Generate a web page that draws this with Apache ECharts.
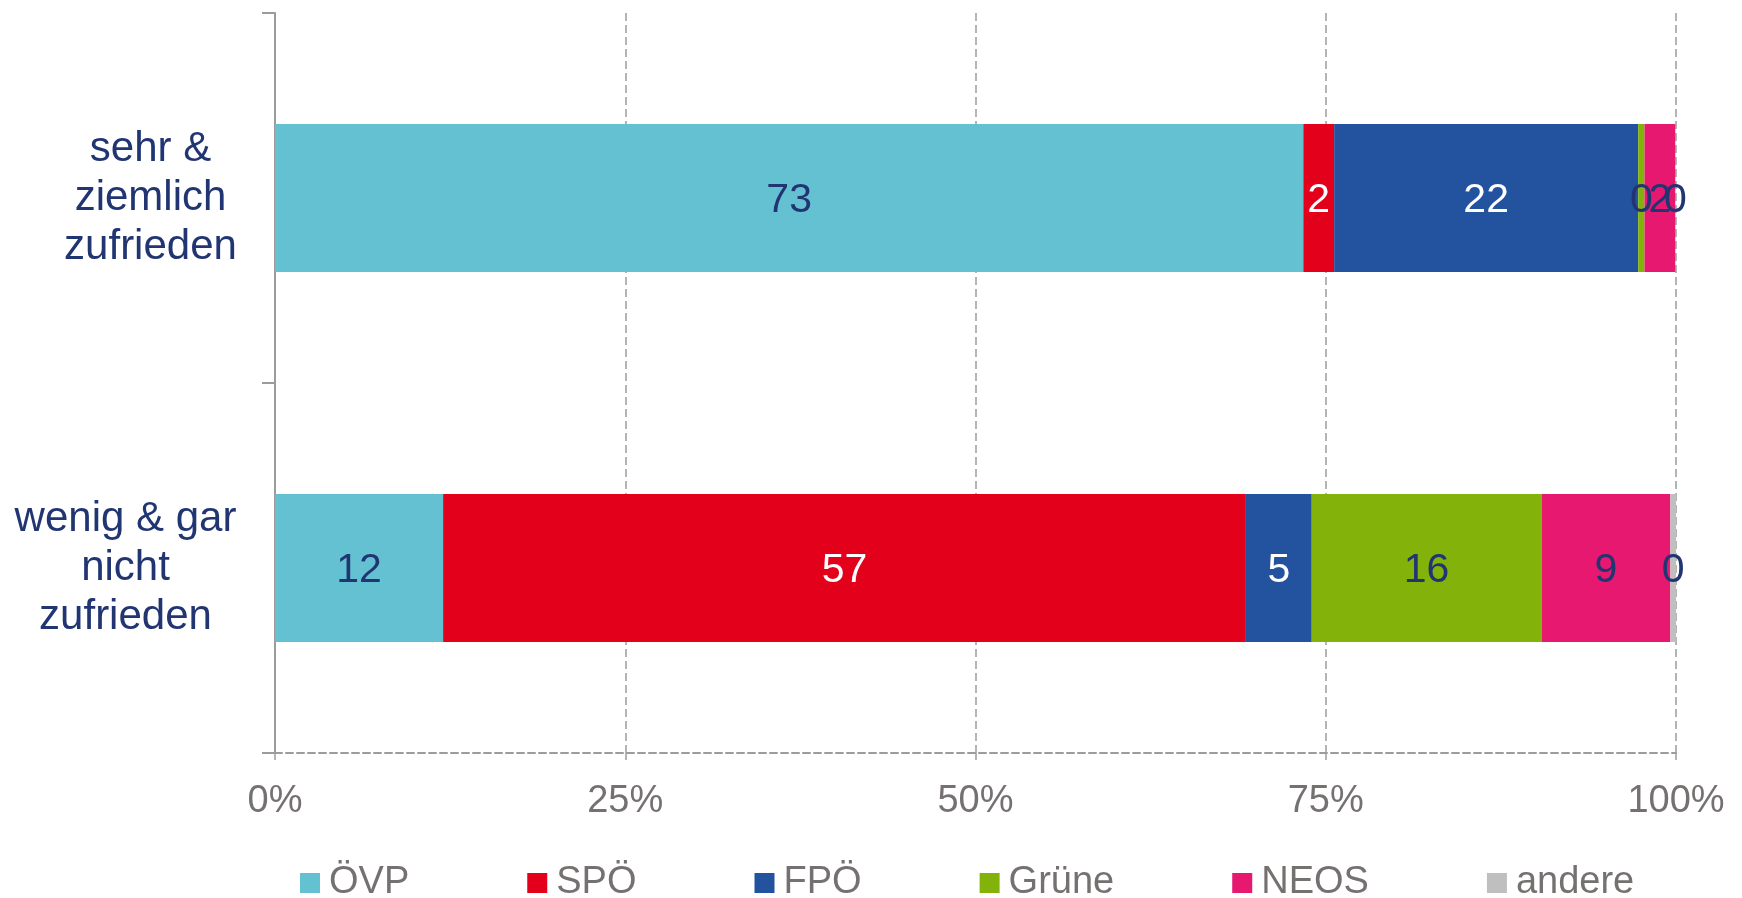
<!DOCTYPE html>
<html>
<head>
<meta charset="utf-8">
<script src="https://cdn.jsdelivr.net/npm/echarts@6/dist/echarts.min.js"></script>
<style>html,body{margin:0;padding:0;background:#fff}#c{width:1742px;height:898px}</style>
</head>
<body>
<div id="c"></div>
<script>
var categories = ['sehr &\nziemlich\nzufrieden', 'wenig & gar\nnicht\nzufrieden'];
var parties = ['ÖVP', 'SPÖ', 'FPÖ', 'Grüne', 'NEOS', 'andere'];
var oevp = [73.4, 12.0];
var spoe = [2.2, 57.3];
var fpoe = [21.7, 4.7];
var gruene = [0.45, 16.4];
var neos = [2.2, 9.2];
var andere = [0, 0.4];
var xTicks = [0, 25, 50, 75, 100];

var colors = ['#63C1D1', '#E2001A', '#23529F', '#83B30B', '#E6186F', '#BFBFBF'];
var labelColors = ['#213572', '#FFFFFF', '#FFFFFF', '#213572', '#213572', '#213572'];
var values = [oevp, spoe, fpoe, gruene, neos, andere];
var navy = '#213572';
var gray = '#767171';
var lineGray = '#9C9C9C';

var series = parties.map(function (p, i) {
  return {
    name: p,
    type: 'bar',
    stack: 'total',
    barWidth: 148,
    data: values[i],
    itemStyle: { color: colors[i] },
    label: {
      show: true,
      position: 'inside',
      offset: [0, 3],
      color: labelColors[i],
      fontFamily: 'Liberation Sans, Arial, sans-serif',
      fontSize: 41,
      formatter: function (d) { return Math.round(d.value); }
    }
  };
});

var chart = echarts.init(document.getElementById('c'));
chart.setOption({
  animation: false,
  color: colors,
  grid: { left: 275, right: 66, top: 13, bottom: 145, containLabel: false },
  xAxis: {
    type: 'value',
    min: xTicks[0],
    max: xTicks[xTicks.length - 1],
    interval: 25,
    axisLine: { show: true, lineStyle: { color: lineGray, width: 2, type: [7, 4] } },
    axisTick: { show: true, length: 10, lineStyle: { color: lineGray, width: 1.5, type: [7, 4] } },
    splitLine: { show: true, lineStyle: { color: lineGray, width: 1.5, type: [8, 4] } },
    axisLabel: {
      margin: 30,
      color: gray,
      fontFamily: 'Liberation Sans, Arial, sans-serif',
      fontSize: 38,
      formatter: '{value}%'
    }
  },
  yAxis: {
    type: 'category',
    inverse: true,
    data: categories,
    axisLine: { show: true, lineStyle: { color: lineGray, width: 2 } },
    axisTick: { show: true, length: 13, lineStyle: { color: lineGray, width: 2 } },
    splitLine: { show: false },
    axisLabel: {
      margin: 37,
      align: 'right',
      formatter: function (v, idx) { return '{c' + idx + '|' + v + '}'; },
      rich: {
        c0: { width: 175, align: 'center', color: navy, fontSize: 42, lineHeight: 49, fontFamily: 'Liberation Sans, Arial, sans-serif' },
        c1: { width: 225, align: 'center', color: navy, fontSize: 42, lineHeight: 49, fontFamily: 'Liberation Sans, Arial, sans-serif' }
      }
    }
  },
  legend: {
    data: parties,
    left: 300,
    top: 864,
    padding: 0,
    icon: 'rect',
    itemWidth: 20,
    itemHeight: 20,
    itemGap: 118,
    textStyle: {
      color: gray,
      fontFamily: 'Liberation Sans, Arial, sans-serif',
      fontSize: 38,
      padding: [0, 0, 0, 4]
    }
  },
  series: series
});
</script>
</body>
</html>
